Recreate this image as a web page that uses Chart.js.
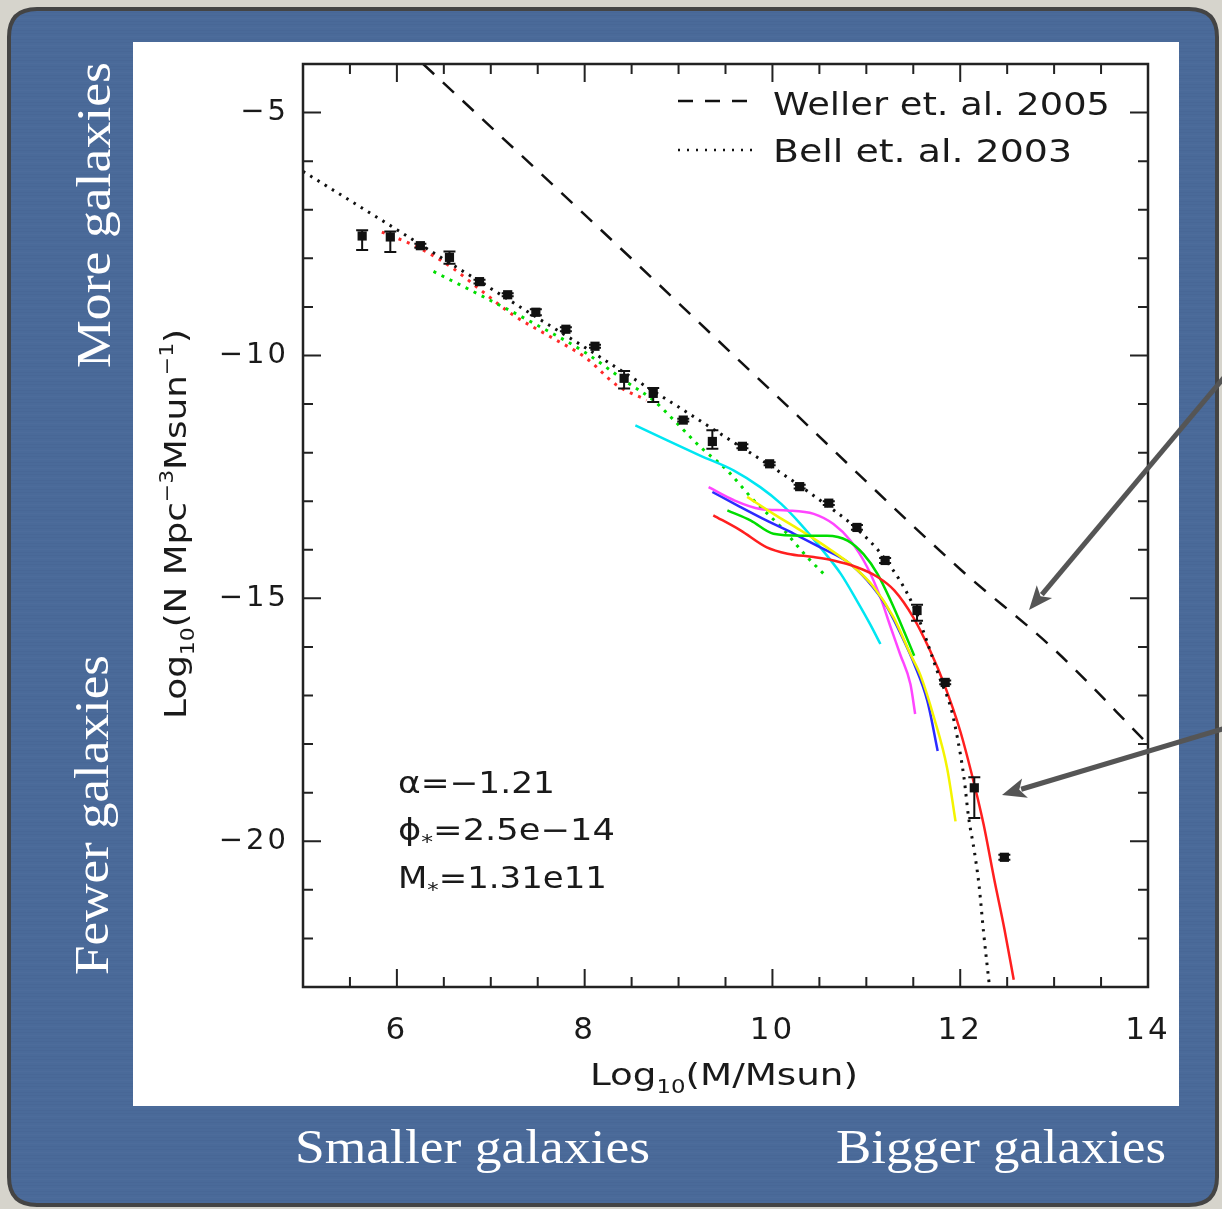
<!DOCTYPE html>
<html><head><meta charset="utf-8">
<script src="https://cdn.jsdelivr.net/npm/chart.js@4.4.1/dist/chart.umd.min.js"></script>
<style>html,body{margin:0;padding:0;background:#d6d4cc;}canvas{display:block;}</style>
</head><body>
<canvas id="c" width="1222" height="1209"></canvas>
<script>
// ---------- data ----------
const obsX  = [5.63,5.93,6.25,6.56,6.88,7.18,7.48,7.80,8.11,8.42,8.73,9.05,9.36,9.68,9.97,10.29,10.60,10.90,11.20,11.54,11.84,12.15,12.47];
const obsY  = [-7.54,-7.56,-7.74,-7.98,-8.48,-8.75,-9.11,-9.46,-9.81,-10.47,-10.78,-11.33,-11.77,-11.87,-12.23,-12.70,-13.04,-13.54,-14.22,-15.25,-16.73,-18.90,-20.33];
const obsHi = [-7.42,-7.45,-7.70,-7.86,-8.44,-8.72,-9.05,-9.42,-9.78,-10.32,-10.67,-11.30,-11.54,-11.83,-12.20,-12.66,-13.00,-13.49,-14.17,-15.13,-16.69,-18.68,-20.28];
const obsLo = [-7.83,-7.87,-7.78,-8.11,-8.52,-8.78,-9.17,-9.50,-9.84,-10.68,-10.96,-11.36,-11.92,-11.91,-12.26,-12.74,-13.08,-13.59,-14.27,-15.46,-16.77,-19.52,-20.38];

const bellX = [5.0,5.5,6.0,6.5,7.0,7.5,8.0,8.5,9.0,9.5,10.0,10.5,10.9,11.2,11.5,11.78,11.9,11.97,12.04,12.09,12.15,12.2,12.25,12.31];
const bellY = [-6.21,-6.81,-7.41,-8.02,-8.62,-9.23,-9.83,-10.45,-11.06,-11.68,-12.3,-12.97,-13.57,-14.19,-15.15,-16.63,-17.25,-17.87,-18.69,-19.52,-20.2,-20.9,-21.9,-22.96];

const wellerX = [6.28,8.0,10.0,12.0,13.0,14.0];
const wellerY = [-4.0,-7.1,-10.75,-14.4,-16.05,-18.0];

const redDotX = [5.84,6.21,6.57,6.89,7.24,7.63,8.02,8.34,8.66];
const redDotY = [-7.46,-7.76,-8.17,-8.65,-9.17,-9.61,-10.06,-10.61,-10.92];
const greenDotX = [6.39,6.92,7.46,7.99,8.45,8.73,8.95,9.23,9.52,9.80,10.09,10.37,10.58];
const greenDotY = [-8.27,-8.79,-9.34,-9.92,-10.55,-10.92,-11.33,-11.88,-12.37,-12.98,-13.53,-14.15,-14.56];

const cyanX = [8.54,8.88,9.23,9.59,9.87,10.09,10.30,10.51,10.73,10.90,11.04,11.15];
const cyanY = [-11.44,-11.75,-12.06,-12.37,-12.71,-13.05,-13.47,-13.95,-14.5,-15.05,-15.53,-15.94];
const magX = [9.32,9.59,9.87,10.16,10.44,10.65,10.83,11.01,11.15,11.26,11.36,11.47,11.52];
const magY = [-12.71,-12.98,-13.16,-13.19,-13.26,-13.47,-13.81,-14.36,-14.98,-15.60,-16.15,-16.77,-17.38];
const blueX = [9.36,9.66,9.94,10.23,10.51,10.80,11.01,11.22,11.40,11.51,11.65,11.76];
const blueY = [-12.81,-13.12,-13.40,-13.67,-13.95,-14.25,-14.63,-15.18,-15.87,-16.35,-17.11,-18.14];
const yelX = [9.73,10.01,10.30,10.58,10.87,11.08,11.29,11.47,11.58,11.72,11.86,11.95];
const yelY = [-12.91,-13.26,-13.60,-13.95,-14.36,-14.77,-15.39,-16.15,-16.60,-17.45,-18.49,-19.59];
const grnX = [9.52,9.77,10.01,10.30,10.58,10.80,10.97,11.12,11.26,11.40,11.51];
const grnY = [-13.19,-13.40,-13.67,-13.71,-13.71,-13.81,-14.09,-14.50,-15.05,-15.67,-16.18];
const redX = [9.37,9.66,9.94,10.16,10.44,10.65,10.90,11.12,11.30,11.50,11.68,11.83,12.0,12.15,12.25,12.36,12.47,12.57];
const redY = [-13.29,-13.60,-13.95,-14.08,-14.15,-14.22,-14.36,-14.56,-14.84,-15.39,-16.08,-16.77,-17.73,-18.83,-19.66,-20.76,-21.8,-22.85];

const xMajorTicks = [6,8,10,12,14];
const xTickLabels = ['6','8','10','12','14'];
const yMajorTicks = [-5,-10,-15,-20];
const yTickLabels = ['\u22125','\u221210','\u221215','\u221220'];

const legendLabels = ['Weller et. al. 2005','Bell et. al. 2003'];
const fitText = ['\u03b1=\u22121.21','=2.5e\u221214','=1.31e11'];

// ---------- helpers ----------
const pts = (xs, ys) => xs.map((x, i) => ({x: x, y: ys[i]}));
const SANS = '"DejaVu Sans", "Liberation Sans", sans-serif';
const SERIF = '"Liberation Serif", "DejaVu Serif", serif';

function rich(ctx, parts, x, y, width, rotate) {
  ctx.save();
  ctx.letterSpacing = '0px';
  let nat = 0;
  for (const p of parts) { ctx.font = p[1] + 'px ' + (p[3] || SANS); nat += ctx.measureText(p[0]).width; }
  ctx.translate(x, y);
  if (rotate) ctx.rotate(-Math.PI / 2);
  ctx.scale(width / nat, 1);
  ctx.textAlign = 'left';
  ctx.textBaseline = 'alphabetic';
  let cx = 0;
  for (const p of parts) {
    ctx.font = p[1] + 'px ' + (p[3] || SANS);
    ctx.fillText(p[0], cx, p[2]);
    cx += ctx.measureText(p[0]).width;
  }
  ctx.restore();
}

function arrow(ctx, x1, y1, x2, y2) {
  const a = Math.atan2(y2 - y1, x2 - x1);
  const hl = 24, hw = 10;
  const bx = x2 - hl * Math.cos(a), by = y2 - hl * Math.sin(a);
  ctx.save();
  ctx.strokeStyle = '#555'; ctx.fillStyle = '#555'; ctx.lineWidth = 5; ctx.lineCap = 'butt';
  ctx.beginPath(); ctx.moveTo(x1, y1); ctx.lineTo(bx + 4 * Math.cos(a), by + 4 * Math.sin(a)); ctx.stroke();
  ctx.beginPath();
  ctx.moveTo(x2, y2);
  ctx.lineTo(bx - hw * Math.sin(a), by + hw * Math.cos(a));
  ctx.lineTo(bx + 6 * Math.cos(a), by + 6 * Math.sin(a));
  ctx.lineTo(bx + hw * Math.sin(a), by - hw * Math.cos(a));
  ctx.closePath(); ctx.fill();
  ctx.restore();
}

function roundRect(ctx, x, y, w, h, r) {
  ctx.beginPath();
  ctx.moveTo(x + r, y); ctx.lineTo(x + w - r, y); ctx.quadraticCurveTo(x + w, y, x + w, y + r);
  ctx.lineTo(x + w, y + h - r); ctx.quadraticCurveTo(x + w, y + h, x + w - r, y + h);
  ctx.lineTo(x + r, y + h); ctx.quadraticCurveTo(x, y + h, x, y + h - r);
  ctx.lineTo(x, y + r); ctx.quadraticCurveTo(x, y, x + r, y); ctx.closePath();
}

// ---------- plugin for frame, ticks, error bars, annotations ----------
const deco = {
  id: 'deco',
  beforeDraw(chart) {
    const ctx = chart.ctx;
    ctx.save();
    ctx.fillStyle = '#d6d4cc';
    ctx.fillRect(0, 0, chart.width, chart.height);
    roundRect(ctx, 9, 9, 1208, 1196, 28);
    ctx.fillStyle = '#4a6a99';
    ctx.fill();
    ctx.clip();
    for (let y = 9; y < 1205; y += 3) {
      ctx.fillStyle = (y % 9 === 0) ? 'rgba(255,255,255,0.02)' : 'rgba(0,0,0,0.018)';
      ctx.fillRect(9, y, 1208, 1);
    }
    ctx.restore();
    ctx.save();
    roundRect(ctx, 9, 9, 1208, 1196, 28);
    ctx.lineWidth = 4; ctx.strokeStyle = '#444';
    ctx.stroke();
    ctx.fillStyle = '#ffffff';
    ctx.fillRect(133, 42, 1046, 1064);
    ctx.restore();
    ctx.letterSpacing = '3px';
  },
  afterDatasetsDraw(chart) {
    const ctx = chart.ctx, xs = chart.scales.x, ys = chart.scales.y;
    ctx.save();
    ctx.letterSpacing = '0px';
    ctx.strokeStyle = '#111'; ctx.lineWidth = 2;
    for (let i = 0; i < obsX.length; i++) {
      const px = xs.getPixelForValue(obsX[i]);
      const hi = ys.getPixelForValue(obsHi[i]), lo = ys.getPixelForValue(obsLo[i]);
      ctx.beginPath();
      ctx.moveTo(px, hi); ctx.lineTo(px, lo);
      ctx.moveTo(px - 6, hi); ctx.lineTo(px + 6, hi);
      ctx.moveTo(px - 6, lo); ctx.lineTo(px + 6, lo);
      ctx.stroke();
    }
    ctx.restore();
  },
  afterDraw(chart) {
    const ctx = chart.ctx, xs = chart.scales.x, ys = chart.scales.y, a = chart.chartArea;
    ctx.save();
    ctx.letterSpacing = '0px';
    ctx.strokeStyle = '#222'; ctx.lineWidth = 2.5;
    ctx.strokeRect(a.left, a.top, a.right - a.left, a.bottom - a.top);
    ctx.lineWidth = 2;
    xs.ticks.forEach(t => {
      const px = xs.getPixelForValue(t.value);
      const L = xMajorTicks.includes(t.value) ? 18 : 10;
      ctx.beginPath();
      ctx.moveTo(px, a.bottom); ctx.lineTo(px, a.bottom - L);
      ctx.moveTo(px, a.top); ctx.lineTo(px, a.top + L);
      ctx.stroke();
    });
    ys.ticks.forEach(t => {
      const py = ys.getPixelForValue(t.value);
      const L = yMajorTicks.includes(t.value) ? 18 : 10;
      ctx.beginPath();
      ctx.moveTo(a.left, py); ctx.lineTo(a.left + L, py);
      ctx.moveTo(a.right, py); ctx.lineTo(a.right - L, py);
      ctx.stroke();
    });
    // legend
    ctx.lineWidth = 2.5; ctx.strokeStyle = '#111';
    ctx.setLineDash([15, 12]);
    ctx.beginPath(); ctx.moveTo(678, 101); ctx.lineTo(752, 101); ctx.stroke();
    ctx.setLineDash([2, 7]);
    ctx.beginPath(); ctx.moveTo(678, 150); ctx.lineTo(752, 150); ctx.stroke();
    ctx.setLineDash([]);
    ctx.fillStyle = '#1a1a1a';
    rich(ctx, [[legendLabels[0], 32, 0]], 773, 115, 337);
    rich(ctx, [[legendLabels[1], 32, 0]], 773, 162, 299);
    // fit parameters
    rich(ctx, [[fitText[0], 30, 0]], 398, 793, 157);
    rich(ctx, [['\u03d5', 30, 0], ['*', 20, 8], [fitText[1], 30, 0]], 398, 840, 217);
    rich(ctx, [['M', 30, 0], ['*', 20, 8], [fitText[2], 30, 0]], 398, 888, 209);
    // axis titles
    rich(ctx, [['Log', 31, 0], ['10', 19, 8], ['(M/Msun)', 31, 0]], 590, 1085, 268);
    rich(ctx, [['Log', 31, 0], ['10', 19, 8], ['(N Mpc', 31, 0], ['\u22123', 19, -13], ['Msun', 31, 0], ['\u22121', 19, -13], [')', 31, 0]], 186, 719, 390, true);
    // panel labels
    ctx.fillStyle = '#ffffff';
    rich(ctx, [['Smaller galaxies', 49, 0, SERIF]], 295, 1163, 355);
    rich(ctx, [['Bigger galaxies', 49, 0, SERIF]], 836, 1163, 330);
    rich(ctx, [['More galaxies', 49, 0, SERIF]], 110, 368, 306, true);
    rich(ctx, [['Fewer galaxies', 49, 0, SERIF]], 108, 975, 320, true);
    // arrows
    arrow(ctx, 1226, 375, 1029, 610);
    arrow(ctx, 1226, 728, 1002, 795);
    ctx.restore();
  }
};

const line = (data, color, width, dash) => ({
  type: 'scatter', data: data, showLine: true, pointRadius: 0, borderColor: color,
  borderWidth: width, borderDash: dash || [], cubicInterpolationMode: 'monotone', fill: false
});

new Chart(document.getElementById('c'), {
  type: 'scatter',
  data: {
    datasets: [
      { type: 'scatter', data: pts(obsX, obsY), pointStyle: 'rect', pointRadius: 6.5,
        backgroundColor: '#111', borderColor: '#111', borderWidth: 0 },
      line(pts(bellX, bellY), '#111', 3, [2.5, 6]),
      line(pts(wellerX, wellerY), '#111', 2.5, [15, 12]),
      line(pts(redX, redY), '#ff1f1f', 2.5),
      line(pts(grnX, grnY), '#00dd00', 2.5),
      line(pts(yelX, yelY), '#f4f400', 2.5),
      line(pts(blueX, blueY), '#2b2bff', 2.5),
      line(pts(magX, magY), '#ff45ff', 2.5),
      line(pts(cyanX, cyanY), '#00e6f2', 2.5),
      line(pts(greenDotX, greenDotY), '#00dd00', 3, [3, 6]),
      line(pts(redDotX, redDotY), '#ff2a2a', 3, [3, 6])
    ]
  },
  options: {
    responsive: false, animation: false, devicePixelRatio: 1,
    layout: { padding: { left: 133, top: 64, right: 74, bottom: 122 } },
    plugins: { legend: { display: false }, tooltip: { enabled: false } },
    scales: {
      x: {
        type: 'linear', position: 'bottom', min: 5, max: 14,
        afterFit: s => { s.height = 100; },
        grid: { display: false, drawTicks: false },
        border: { display: false },
        ticks: {
          stepSize: 0.5, autoSkip: false, maxRotation: 0, padding: 25,
          color: '#1a1a1a', font: { family: SANS, size: 31 },
          callback: v => { const i = xMajorTicks.indexOf(v); return i >= 0 ? xTickLabels[i] : ''; }
        }
      },
      y: {
        type: 'linear', position: 'left', min: -23, max: -4,
        afterFit: s => { s.width = 170; },
        grid: { display: false, drawTicks: false },
        border: { display: false },
        ticks: {
          stepSize: 1, autoSkip: false, padding: 14,
          color: '#1a1a1a', font: { family: SANS, size: 29 },
          callback: v => { const i = yMajorTicks.indexOf(v); return i >= 0 ? yTickLabels[i] : ''; }
        }
      }
    }
  },
  plugins: [deco]
});
</script>
</body></html>
